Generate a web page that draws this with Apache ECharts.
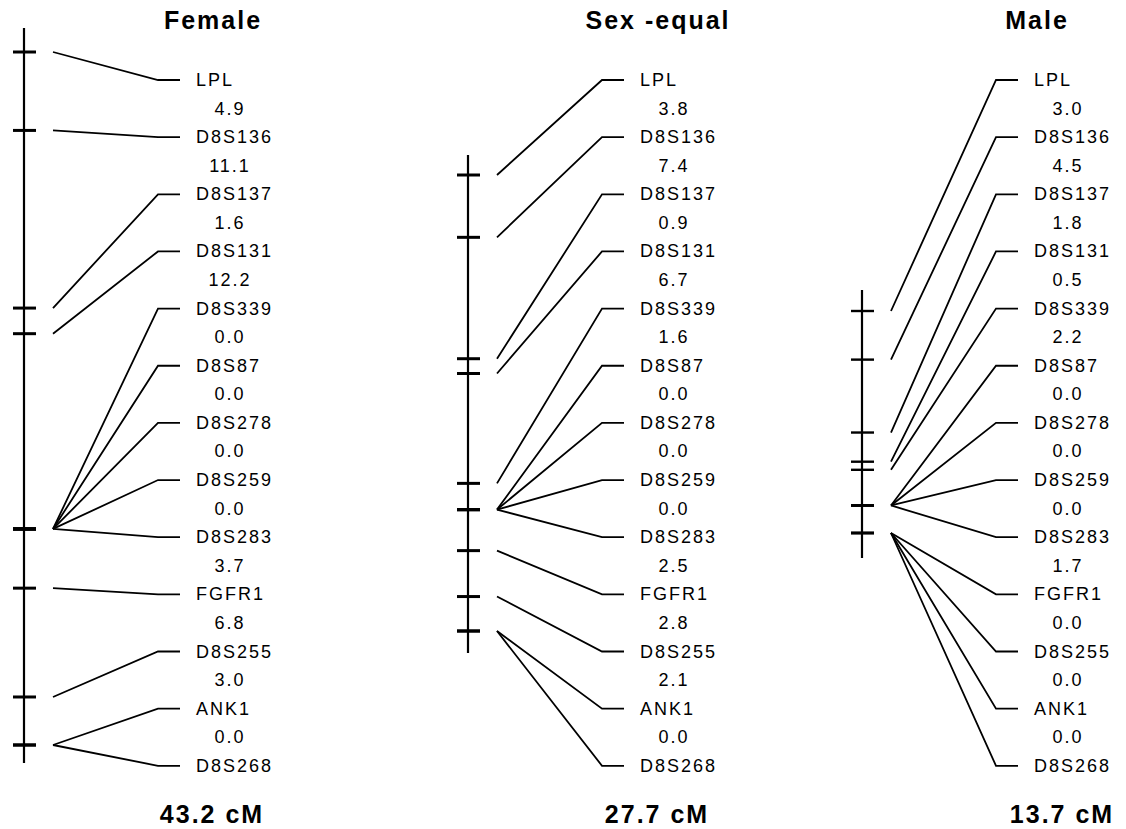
<!DOCTYPE html>
<html>
<head>
<meta charset="utf-8">
<script src="https://cdn.jsdelivr.net/npm/echarts@6/dist/echarts.min.js"></script>
<style>
html, body { margin: 0; padding: 0; background: #fff; }
#chart { width: 1126px; height: 829px; }
#chart text { letter-spacing: 2px; }
</style>
</head>
<body>
<div id="chart"></div>
<script>
// ---- data ----
const markers = ['LPL', 'D8S136', 'D8S137', 'D8S131', 'D8S339', 'D8S87', 'D8S278',
                 'D8S259', 'D8S283', 'FGFR1', 'D8S255', 'ANK1', 'D8S268'];
// distances (cM) between consecutive markers
const femaleDist = [4.9, 11.1, 1.6, 12.2, 0.0, 0.0, 0.0, 0.0, 3.7, 6.8, 3.0, 0.0];
const equalDist  = [3.8, 7.4, 0.9, 6.7, 1.6, 0.0, 0.0, 0.0, 2.5, 2.8, 2.1, 0.0];
const maleDist   = [3.0, 4.5, 1.8, 0.5, 2.2, 0.0, 0.0, 0.0, 1.7, 0.0, 0.0, 0.0];
const panelTitles = ['Female', 'Sex -equal', 'Male'];
const mapTotals = ['43.2 cM', '27.7 cM', '13.7 cM'];

// ---- layout ----
const ROW_TOP = 80, ROW_STEP = 57.15;
const LABEL_FONT = '18px "Liberation Sans", Arial, sans-serif';
const TITLE_FONT = 'bold 25px "Liberation Sans", Arial, sans-serif';
const panels = [
  { dist: femaleDist, axisX: 24,  top: 52,  height: 693, ext: [24, 18], tickW: 3,   titleX: 213, totalX: 212 },
  { dist: equalDist,  axisX: 468, top: 175, height: 456, ext: [20, 22], tickW: 3,   titleX: 658, totalX: 657 },
  { dist: maleDist,   axisX: 862, top: 311, height: 222, ext: [21, 25], tickW: 2.4, titleX: 1037, totalX: 1062 }
];

function cumulative(dist) {
  const out = [0];
  dist.forEach((d, i) => out.push(Math.round((out[i] + d) * 10) / 10));
  return out;
}

const grids = [], xAxes = [], yAxes = [], series = [], graphics = [];
panels.forEach((p, pi) => {
  const cum = cumulative(p.dist);
  const total = cum[cum.length - 1];
  grids.push({ left: p.axisX, top: p.top, width: 200, height: p.height });
  xAxes.push({ gridIndex: pi, type: 'value', min: 0, max: 200, show: false });
  yAxes.push({ gridIndex: pi, type: 'value', min: 0, max: total, inverse: true, show: false });
  series.push({
    type: 'custom',
    xAxisIndex: pi,
    yAxisIndex: pi,
    clip: false,
    silent: true,
    encode: { x: 0, y: 1 },
    data: markers.map((m, i) => [0, cum[i], i]),
    renderItem: function (params, api) {
      const i = api.value(2);
      const pt = api.coord([0, api.value(1)]);
      const ax = pt[0], ty = pt[1];
      const rowY = ROW_TOP + i * ROW_STEP;
      const children = [];
      if (i === 0) {
        const y0 = api.coord([0, 0])[1] - p.ext[0];
        const y1 = api.coord([0, total])[1] + p.ext[1];
        children.push({ type: 'line', shape: { x1: ax, y1: y0, x2: ax, y2: y1 },
          style: { stroke: '#000', lineWidth: 2.2 } });
      }
      children.push({ type: 'line', shape: { x1: ax - 11, y1: ty, x2: ax + 12, y2: ty },
        style: { stroke: '#000', lineWidth: p.tickW } });
      children.push({ type: 'polyline',
        shape: { points: [[ax + 29, ty], [ax + 134, rowY], [ax + 156, rowY]] },
        style: { stroke: '#000', lineWidth: 1.8, fill: null } });
      children.push({ type: 'text', style: { text: markers[i], x: ax + 172, y: rowY,
        fill: '#000', font: LABEL_FONT, align: 'left', verticalAlign: 'middle' } });
      if (i < p.dist.length) {
        children.push({ type: 'text', style: { text: p.dist[i].toFixed(1), x: ax + 206,
          y: rowY + ROW_STEP / 2, fill: '#000', font: LABEL_FONT, align: 'center', verticalAlign: 'middle' } });
      }
      return { type: 'group', children: children };
    }
  });
  graphics.push({ type: 'text', x: p.titleX, y: 20, silent: true,
    style: { text: panelTitles[pi], fill: '#000', font: TITLE_FONT, align: 'center', verticalAlign: 'middle' } });
  graphics.push({ type: 'text', x: p.totalX, y: 814, silent: true,
    style: { text: mapTotals[pi], fill: '#000', font: TITLE_FONT, align: 'center', verticalAlign: 'middle' } });
});

const chart = echarts.init(document.getElementById('chart'), null, { renderer: 'svg' });
chart.setOption({
  animation: false,
  backgroundColor: '#fff',
  grid: grids,
  xAxis: xAxes,
  yAxis: yAxes,
  series: series,
  graphic: graphics
});
</script>
</body>
</html>
